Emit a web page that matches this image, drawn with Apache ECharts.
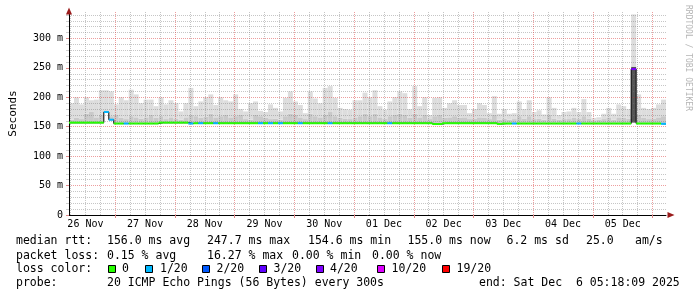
<!DOCTYPE html>
<html><head><meta charset="utf-8">
<script src="https://cdn.jsdelivr.net/npm/echarts@6/dist/echarts.min.js"></script>
<style>html,body{margin:0;padding:0;background:#fff}#c{width:697px;height:297px}</style>
</head><body><div id="c"></div>
<script>
// ---- data ----
const startHour = 5.4;            // Nov 26 ~05:20 (hours after Nov 26 00:00)
const spanHours = 240;            // 10 days
const binHours = 2;               // one value per 2 h step
const dayLabels = ['26 Nov','27 Nov','28 Nov','29 Nov','30 Nov','01 Dec','02 Dec','03 Dec','04 Dec','05 Dec'];
const yMajorTicks = [0,50,100,150,200,250,300];
const yMinorTicks = [10,20,30,40,60,70,80,90,110,120,130,140,160,170,180,190,210,220,230,240,260,270,280,290,310,320,330,340];
const yMax = 345;

// top of the smoke (max ping, ms)
const smokeMax = [
 190,200,188,200,195,196,212,212,210,188,
 200,195,213,205,190,196,196,185,200,188,
 195,190,176,190,216,185,193,200,205,187,
 200,195,193,205,180,176,190,193,177,175,
 188,182,176,199,210,193,187,173,210,198,
 190,216,219,199,182,180,179,195,195,208,
 200,212,185,179,193,200,210,207,180,219,
 185,200,170,199,200,182,190,195,187,187,
 173,180,190,187,173,202,172,180,172,173,
 193,180,195,175,178,171,200,182,170,175,
 176,182,175,197,175,165,166,172,182,172,
 188,185,180,341,205,182,180,182,188,196];
// top of the denser (darker) smoke band, ms
const smokeDark = [
 162,165,163,172,176,166,170,178,168,170,
 165,163,168,166,164,166,170,165,168,163,
 166,164,162,166,170,168,165,167,172,166,
 168,170,166,168,170,163,162,170,168,165,
 163,164,162,168,172,170,166,163,172,168,
 166,170,175,168,165,164,163,166,168,172,
 168,172,166,164,168,170,172,170,165,172,
 166,170,163,168,170,165,166,168,165,166,
 163,164,166,165,163,170,162,164,162,163,
 168,164,168,163,164,162,170,164,162,163,
 163,165,164,168,164,161,162,163,166,162,
 166,165,164,252,170,165,163,164,166,168];
// bottom of the smoke (min ping, ms)
const smokeMin = [
 155,155,155,155,155,155,155,174,161,154,
 154,154,154,154,154,154,154,154,155,155,
 155,155,155,155,154,154.5,154.5,154.5,154.5,154.5,
 154.5,154.5,154.5,154.5,154.5,154.5,154.5,154.5,154.5,154.5,
 154.5,154.5,154.5,154.5,154.5,154.5,154.5,154.5,154.5,154.5,
 154.5,154.5,154.5,154.5,154.5,154.5,154.5,154.5,154.5,154.5,
 154.5,154.5,154.5,154.5,154.5,154.5,154.5,154.5,154.5,154.5,
 154.5,154.5,154.5,153.5,153.5,154.5,154.5,154.5,154.5,154.5,
 154.5,154.5,154.5,154.5,154.5,154.5,153.5,154,154,154,
 154,154,154,154,154,154,154,154,154,154,
 154,154,154,154,154,154,154,154,154,154,
 154,154,154,157,154,154,154,154,154,153.5];
// median rtt, ms
const medianRtt = [
 157,157,157,157,157,157,157,175,162,155.5,
 155.5,155.5,155.5,155.5,155.5,155.5,155.5,155.5,157,157,
 157,157,157,157,155.5,156,156,156,156,156,
 156,156,156,156,156,156,156,156,156,156,
 156,156,156,156,156,156,156,156,156,156,
 156,156,156,156,156,156,156,156,156,156,
 156,156,156,156,156,156,156,156,156,156,
 156,156,156,154.6,154.6,156,156,156,156,156,
 156,156,156,156,156,156,154.8,155.5,155.5,155.5,
 155.5,155.5,155.5,155.5,155.5,155.5,155.5,155.5,155.5,155.5,
 155.5,155.5,155.5,155.5,155.5,155.5,155.5,155.5,155.5,155.5,
 155.5,155.5,155.5,248,155.5,155.5,155.5,155.5,155.5,155];
// loss level index per step (into lossColors)
const lossLevel = [
 0,0,0,0,0,0,0,1,1,0,
 0,1,0,0,0,0,0,0,0,0,
 0,0,0,0,1,0,1,0,0,1,
 0,0,0,0,0,0,0,0,1,0,
 1,0,1,0,0,0,1,0,0,0,
 0,0,1,0,0,0,0,0,0,0,
 0,0,0,0,1,0,0,0,0,0,
 0,0,0,0,0,0,0,0,0,0,
 0,0,0,0,0,0,0,0,0,1,
 0,0,0,0,0,0,0,0,0,0,
 0,0,1,0,0,0,0,0,0,0,
 0,0,0,4,0,0,0,0,0,1];
const lossColors = ['#26ff00','#00b8ff','#0059ff','#5e00ff','#7e00ff','#dd00ff','#ff0000'];
const lossNames  = ['0','1/20','2/20','3/20','4/20','10/20','19/20'];

// ---- derived ----
const MONO = '"DejaVu Sans Mono", monospace';
const n = smokeMax.length;
const binIds = smokeMax.map((_, k) => String(k));
const starts = smokeMax.map((_, k) => startHour + binHours * k);
const endHour = startHour + spanHours;
const midnights = [], noons = [], sixHours = [];
for (let h = 0; h <= 252; h += 6) {
  if (h <= startHour || h > endHour) continue;
  if (h % 24 === 0) midnights.push(h);
  else sixHours.push(h);
  if (h % 24 === 12) noons.push(h);
}
const lineHalf = 1.7;

const redGrid = 'rgba(215,40,40,0.45)';
const greyGrid = 'rgba(120,120,120,0.42)';

const barBase = { type: 'bar', xAxisIndex: 0, yAxisIndex: 0, barCategoryGap: '0%', barGap: '-100%', silent: true, animation: false };

const series = [
  Object.assign({}, barBase, { name: 'smokeBase', stack: 'smoke', z: 1,
    itemStyle: { color: 'rgba(0,0,0,0)' },
    data: smokeMin.slice() }),
  Object.assign({}, barBase, { name: 'smokeDense', stack: 'smoke', z: 1,
    data: smokeDark.map((d, k) => {
      const v = Math.max(0, d - smokeMin[k]);
      return { value: v, itemStyle: { color: v > 50 ? '#555555' : '#c9c9c9' } };
    }) }),
  Object.assign({}, barBase, { name: 'smokeLight', stack: 'smoke', z: 1,
    itemStyle: { color: '#dddddd' },
    data: smokeMax.map((m, k) => Math.max(0, m - Math.max(smokeDark[k], smokeMin[k]))) }),
  { type: 'line', name: 'medianBlack', xAxisIndex: 1, yAxisIndex: 0, step: 'end', symbol: 'none',
    silent: true, animation: false, z: 3,
    lineStyle: { color: '#000', width: 1 },
    data: starts.map((x, k) => [x, medianRtt[k]]).concat([[endHour, medianRtt[n - 1]]]) },
  Object.assign({}, barBase, { name: 'medBase', stack: 'med', z: 4,
    itemStyle: { color: 'rgba(0,0,0,0)' },
    data: medianRtt.map(m => m - lineHalf) }),
  Object.assign({}, barBase, { name: 'medLine', stack: 'med', z: 4,
    data: lossLevel.map(l => ({ value: lineHalf * 2, itemStyle: { color: lossColors[l] } })) })
];

// ---- legend / footer text ----
const F = '11.5px ' + MONO;
function txt(s, x, y) {
  return { type: 'text', x: x, y: y, silent: true,
    style: { text: s, font: F, fill: '#000', align: 'left', verticalAlign: 'middle' } };
}
const graphics = [
  txt('median rtt:', 16, 241), txt('156.0 ms avg', 107, 241), txt('247.7 ms max', 207, 241),
  txt('154.6 ms min', 308, 241), txt('155.0 ms now', 407.5, 241), txt('6.2 ms sd', 506.5, 241),
  txt('25.0', 586, 241), txt('am/s', 635, 241),
  txt('packet loss:', 16, 256), txt('0.15 % avg', 107, 256), txt('16.27 % max', 207, 256),
  txt('0.00 % min', 292, 256), txt('0.00 % now', 372, 256),
  txt('loss color:', 16, 269.5),
  txt('probe:', 16, 283.5), txt('20 ICMP Echo Pings (56 Bytes) every 300s', 107, 283.5),
  txt('end: Sat Dec  6 05:18:09 2025', 479, 283.5),
  { type: 'text', x: 688, y: 5, rotation: -Math.PI / 2, silent: true,
    style: { text: 'RRDTOOL / TOBI OETIKER', font: '8px ' + MONO, fill: '#b5b5b5', align: 'left', verticalAlign: 'middle' } }
];
const swatchX = [108.5, 145.5, 202.5, 259.5, 316.5, 377.5, 442.5];
const swatchLabelX = [122, 160, 216.5, 273.5, 330, 391.5, 456.5];
lossNames.forEach((nm, i) => {
  graphics.push({ type: 'rect', silent: true, shape: { x: swatchX[i], y: 265.5, width: 7, height: 7 },
    style: { fill: lossColors[i], stroke: '#000', lineWidth: 1 } });
  graphics.push(txt(nm, swatchLabelX[i], 269.5));
});

const chart = echarts.init(document.getElementById('c'), null, { renderer: 'canvas' });
chart.setOption({
  backgroundColor: '#ffffff',
  animation: false,
  grid: { left: 66, top: 12, width: 600, height: 203 },
  xAxis: [
    { type: 'category', data: binIds, boundaryGap: true, position: 'bottom', show: false },
    { type: 'value', min: startHour, max: endHour, position: 'bottom', z: 1.5,
      axisLine: { show: true, onZero: false, lineStyle: { color: '#000', width: 1 } },
      axisTick: { show: true, customValues: midnights, length: 3, lineStyle: { color: '#e08a8a' } },
      axisLabel: { show: true, customValues: noons, margin: 4, color: '#000', fontFamily: MONO, fontSize: 10,
        formatter: v => dayLabels[Math.round((v - 12) / 24)] || '' },
      splitLine: { show: true, lineStyle: { color: redGrid, type: [1, 1], width: 1 } } },
    { type: 'value', min: startHour, max: endHour, position: 'bottom', z: 1.5,
      axisLine: { show: true, onZero: false, symbol: ['none', 'triangle'], symbolSize: [6, 7], symbolOffset: [0, 5],
        lineStyle: { color: '#9a1b1b', width: 0 } },
      axisTick: { show: false, customValues: sixHours },
      axisLabel: { show: false },
      splitLine: { show: true, lineStyle: { color: greyGrid, type: [1, 1], width: 1 } } }
  ],
  yAxis: [
    { type: 'value', min: 0, max: yMax, position: 'left', z: 1.5,
      name: 'Seconds', nameLocation: 'middle', nameGap: 50, nameRotate: 90,
      nameTextStyle: { color: '#000', fontFamily: MONO, fontSize: 11 },
      axisLine: { show: true, onZero: false, lineStyle: { color: '#000', width: 1 } },
      axisTick: { show: true, customValues: yMajorTicks, length: 3, lineStyle: { color: '#e08a8a' } },
      axisLabel: { show: true, customValues: yMajorTicks, margin: 6, color: '#000', fontFamily: MONO, fontSize: 10,
        formatter: v => v === 0 ? '0' : v + ' m' },
      splitLine: { show: true, lineStyle: { color: redGrid, type: [1, 1], width: 1 } } },
    { type: 'value', min: 0, max: yMax, position: 'left', z: 1.5,
      axisLine: { show: true, onZero: false, symbol: ['none', 'triangle'], symbolSize: [6, 7], symbolOffset: [0, 1],
        lineStyle: { color: '#9a1b1b', width: 0 } },
      axisTick: { show: true, customValues: yMinorTicks, length: 3, lineStyle: { color: 'rgba(120,120,120,0.35)' } },
      axisLabel: { show: false },
      splitLine: { show: true, lineStyle: { color: greyGrid, type: [1, 1], width: 1 } } }
  ],
  series: series,
  graphic: graphics
});
</script>
</body></html>
